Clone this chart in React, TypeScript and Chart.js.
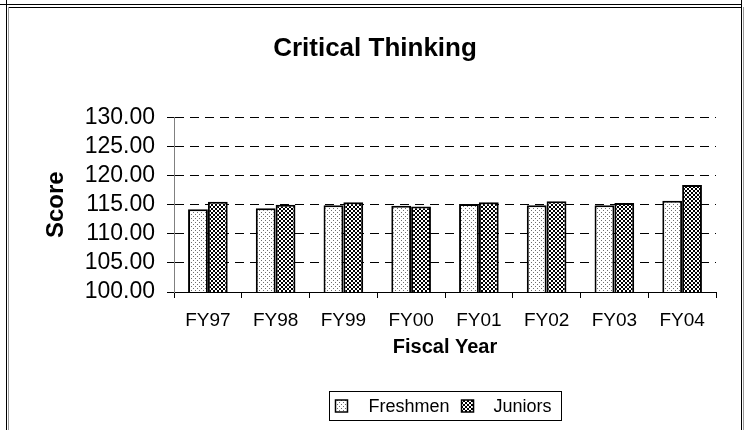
import React, { useEffect, useRef } from "react";
import { Chart, registerables } from "chart.js";

Chart.register(...registerables);

const categories = ["FY97", "FY98", "FY99", "FY00", "FY01", "FY02", "FY03", "FY04"];
const freshmen = [114.2, 114.4, 114.9, 114.8, 115.1, 114.9, 114.9, 115.7];
const juniors = [115.5, 115.0, 115.4, 114.7, 115.4, 115.6, 115.3, 118.4];
const seriesNames = ["Freshmen", "Juniors"];
const yMin = 100;
const yMax = 130;
const yStep = 5;

const FONT = "'Liberation Sans', Arial, sans-serif";

function makeDots(): CanvasPattern {
  const c = document.createElement("canvas");
  c.width = 4;
  c.height = 4;
  const g = c.getContext("2d")!;
  g.fillStyle = "#ffffff";
  g.fillRect(0, 0, 4, 4);
  g.fillStyle = "#6e6e6e";
  g.fillRect(0, 0, 1, 1);
  g.fillRect(2, 2, 1, 1);
  return g.createPattern(c, "repeat")!;
}

function makeChecker(): CanvasPattern {
  const c = document.createElement("canvas");
  c.width = 4;
  c.height = 4;
  const g = c.getContext("2d")!;
  g.fillStyle = "#000000";
  g.fillRect(0, 0, 4, 4);
  g.fillStyle = "#ffffff";
  g.fillRect(0, 0, 2, 2);
  g.fillRect(2, 2, 2, 2);
  return g.createPattern(c, "repeat")!;
}

const boxLegend = {
  id: "boxLegend",
  afterDraw(chart: any) {
    const ctx: CanvasRenderingContext2D = chart.ctx;
    const area = chart.chartArea;
    const ds = chart.data.datasets;
    ctx.save();
    ctx.font = `18px ${FONT}`;
    const w1 = ctx.measureText(ds[0].label).width;
    const w2 = ctx.measureText(ds[1].label).width;
    const padL = 6, mk = 12, gap1 = 21, gapM = 12, gap2 = 20, padR = 10;
    const total = padL + mk + gap1 + w1 + gapM + mk + gap2 + w2 + padR;
    const cx = (area.left + area.right) / 2;
    const x0 = Math.round(cx - total / 2) + 0.5;
    const top = chart.height - 38.5;
    const h = 29;
    ctx.strokeStyle = "#000";
    ctx.lineWidth = 1;
    ctx.strokeRect(x0, top, Math.round(total), h);
    const my = top + h / 2;
    let x = x0 + padL;
    const items = [
      { ds: ds[0], w: w1, gap: gap1 },
      { ds: ds[1], w: w2, gap: gap2 },
    ];
    items.forEach((it, i) => {
      ctx.fillStyle = it.ds.backgroundColor;
      ctx.fillRect(x, my - 6, mk, mk);
      ctx.lineWidth = 1.5;
      ctx.strokeStyle = "#000";
      ctx.strokeRect(x, my - 6, mk, mk);
      x += mk + it.gap;
      ctx.fillStyle = "#000";
      ctx.textBaseline = "middle";
      ctx.textAlign = "left";
      ctx.fillText(it.ds.label, x, my + 1);
      x += it.w + (i === 0 ? gapM : 0);
    });
    ctx.restore();
  },
};

export default function App() {
  const ref = useRef<HTMLCanvasElement | null>(null);

  useEffect(() => {
    const canvas = ref.current;
    if (!canvas) return;
    const chart = new Chart(canvas, {
      type: "bar",
      data: {
        labels: categories,
        datasets: [
          {
            label: seriesNames[0],
            data: freshmen,
            backgroundColor: makeDots() as any,
            borderColor: "#000",
            borderWidth: 2,
            categoryPercentage: 0.585,
            barPercentage: 1,
          },
          {
            label: seriesNames[1],
            data: juniors,
            backgroundColor: makeChecker() as any,
            borderColor: "#000",
            borderWidth: 2,
            categoryPercentage: 0.585,
            barPercentage: 1,
          },
        ],
      },
      options: {
        animation: false,
        responsive: false,
        devicePixelRatio: 1,
        layout: { padding: { left: 25, right: 25, top: 0, bottom: 60 } },
        plugins: {
          legend: { display: false },
          tooltip: { enabled: false },
          title: {
            display: true,
            text: "Critical Thinking",
            color: "#000",
            font: { family: FONT, size: 26, weight: "bold", lineHeight: 1.2 },
            padding: { top: 24.8, bottom: 53.4 },
          },
        },
        scales: {
          x: {
            grid: {
              display: true,
              drawOnChartArea: false,
              drawTicks: true,
              tickLength: 6,
              color: "#000",
            },
            border: { display: true, color: "#000", width: 1 },
            ticks: {
              color: "#000",
              padding: 11,
              autoSkip: false,
              font: { family: FONT, size: 19 },
              maxRotation: 0,
            },
            title: {
              display: true,
              text: "Fiscal Year",
              color: "#000",
              font: { family: FONT, size: 20, weight: "bold", lineHeight: 1.2 },
              padding: { top: 4, bottom: 10.5 },
            },
            afterFit: (scale: any) => {
              scale.height = 78;
            },
          },
          y: {
            min: yMin,
            max: yMax,
            grid: {
              color: "#000",
              lineWidth: 1,
              drawTicks: true,
              tickLength: 7,
              tickColor: "#000",
              borderDash: [9, 6],
            } as any,
            border: { display: true, color: "#808080", width: 1, dash: [9, 6] },
            ticks: {
              stepSize: yStep,
              autoSkip: false,
              color: "#000",
              padding: 12,
              font: { family: FONT, size: 23 },
              callback: (v: any) => Number(v).toFixed(2),
            },
            title: {
              display: true,
              text: "Score",
              color: "#000",
              font: { family: FONT, size: 24, weight: "bold", lineHeight: 1.2 },
              padding: { top: 8, bottom: 4 },
            },
            afterFit: (scale: any) => {
              scale.width = 140;
            },
          },
        },
      },
      plugins: [boxLegend],
    });
    return () => chart.destroy();
  }, []);

  const line = (s: React.CSSProperties) => (
    <div style={{ position: "absolute", ...s }} />
  );

  return (
    <div
      style={{
        position: "fixed",
        left: 0,
        top: 0,
        width: 751,
        height: 430,
        background: "#fff",
        overflow: "hidden",
      }}
    >
      {line({ left: 0, top: 4, width: 742, height: 1, background: "#000" })}
      {line({ left: 6, top: 0, width: 1, height: 430, background: "#000" })}
      {line({ left: 8, top: 7, width: 734, height: 1, background: "#000" })}
      {line({ left: 8, top: 7, width: 1, height: 423, background: "#999" })}
      {line({ left: 741, top: 0, width: 1, height: 430, background: "#000" })}
      {line({ left: 743, top: 7, width: 1, height: 423, background: "#999" })}
      <canvas
        ref={ref}
        width={732}
        height={422}
        style={{ position: "absolute", left: 9, top: 8, width: 732, height: 422 }}
      />
    </div>
  );
}
